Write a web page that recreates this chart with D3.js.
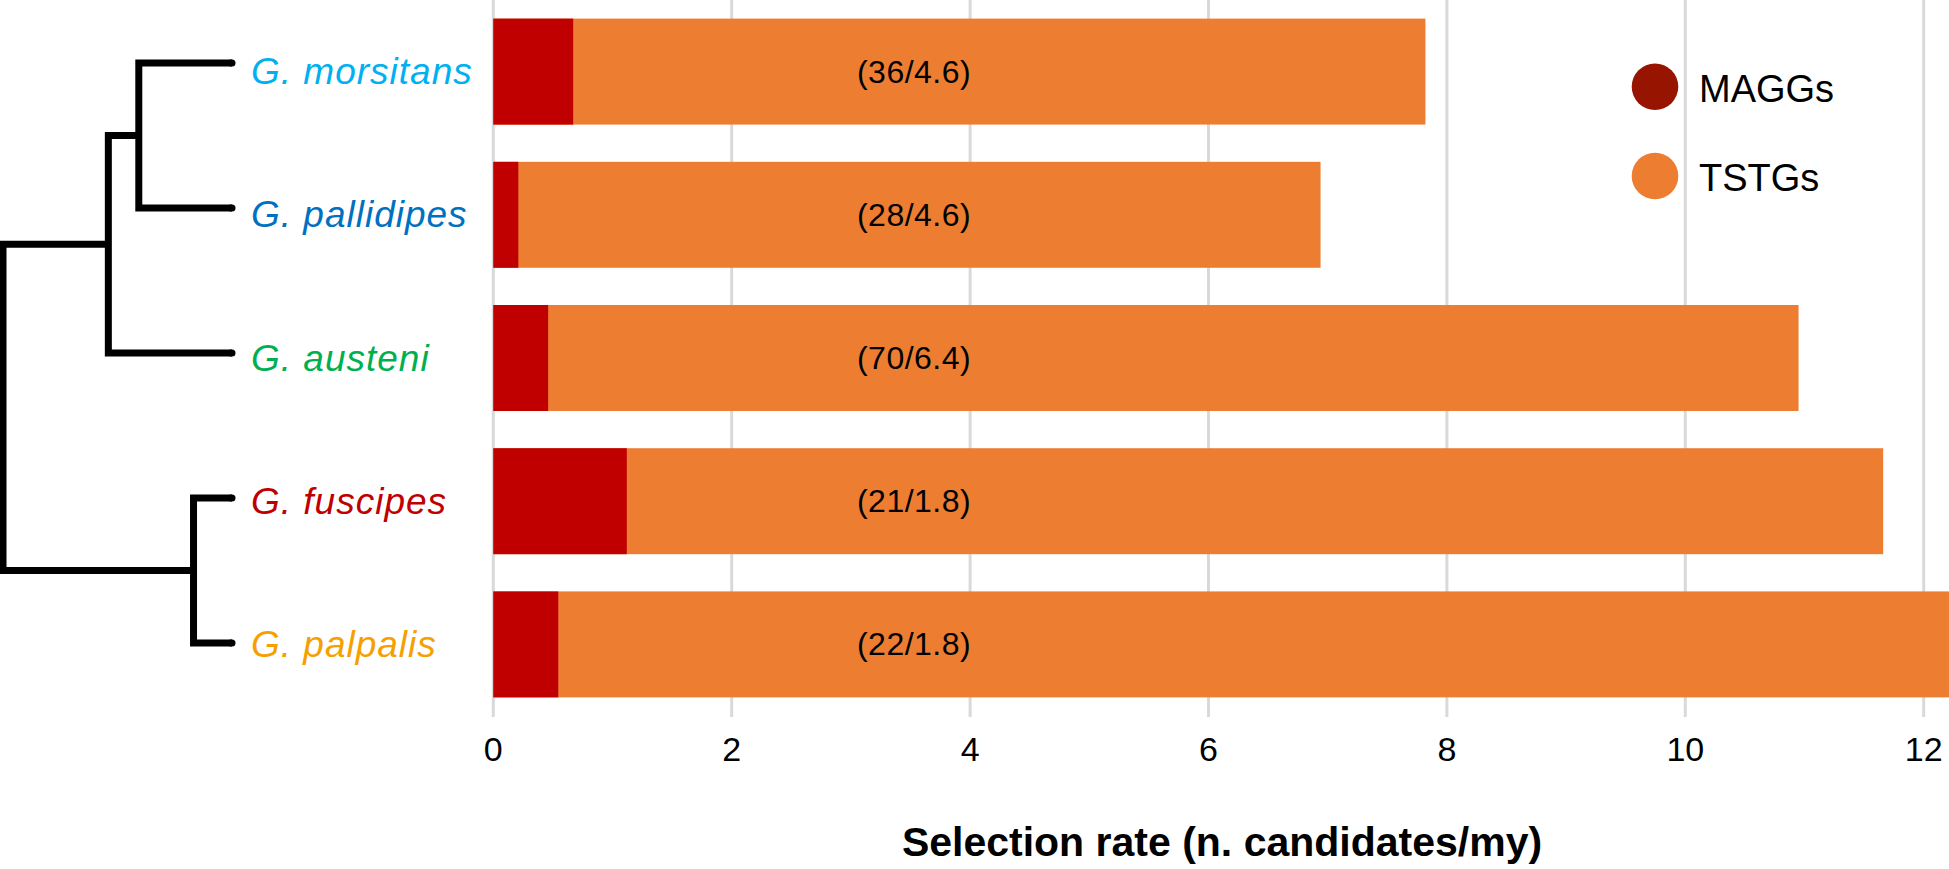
<!doctype html>
<html>
<head>
<meta charset="utf-8">
<title>Selection rate</title>
<script src="https://d3js.org/d3.v7.min.js"></script>
<style>
  body { margin: 0; background: #fff; }
  text { font-family: "Liberation Sans", Arial, sans-serif; }
</style>
</head>
<body>
<svg id="chart"></svg>
<script>
// data
var species = ["G. morsitans", "G. pallidipes", "G. austeni", "G. fuscipes", "G. palpalis"];
var speciesColors = ["#00b0f0", "#0070c0", "#00b050", "#c00000", "#f5a000"];
var maggs = [0.67, 0.21, 0.46, 1.12, 0.545];
var totals = [7.82, 6.94, 10.95, 11.66, 12.5];
var barLabels = ["(36/4.6)", "(28/4.6)", "(70/6.4)", "(21/1.8)", "(22/1.8)"];
var xTicks = [0, 2, 4, 6, 8, 10, 12];
var legendKeys = ["MAGGs", "TSTGs"];
var legendColors = ["#961400", "#ed7d31"];
// tree: internal nodes with depth (0 = root, 1 = tips)
var treeNodes = [
  {id: "mp", depth: 0.593, kids: [0, 1]},
  {id: "mpa", depth: 0.46, kids: ["mp", 2]},
  {id: "fp", depth: 0.832, kids: [3, 4]},
  {id: "root", depth: 0, kids: ["mpa", "fp"]}
];

var W = 1949, H = 869;
var svg = d3.select("#chart").attr("width", W).attr("height", H);

var x = d3.scaleLinear().domain([0, 12]).range([493.3, 1923.7]);
var y = d3.scaleBand().domain(species).range([0, 716]).paddingInner(0.26).paddingOuter(0.13);

// grid
svg.append("g").selectAll("line").data(xTicks).join("line")
  .attr("x1", d => x(d)).attr("x2", d => x(d))
  .attr("y1", 0).attr("y2", 717)
  .attr("stroke", "#d9d9d9").attr("stroke-width", 3);

// bars
var rows = svg.append("g").selectAll("g").data(species).join("g");
rows.append("rect")
  .attr("x", x(0)).attr("y", d => y(d))
  .attr("width", (d, i) => x(totals[i]) - x(0))
  .attr("height", y.bandwidth())
  .attr("fill", "#ed7d31");
rows.append("rect")
  .attr("x", x(0)).attr("y", d => y(d))
  .attr("width", (d, i) => x(maggs[i]) - x(0))
  .attr("height", y.bandwidth())
  .attr("fill", "#c00000");
rows.append("text")
  .attr("x", x(3.53)).attr("y", d => y(d) + y.bandwidth() / 2)
  .attr("text-anchor", "middle").attr("dominant-baseline", "central")
  .attr("font-size", 32).attr("letter-spacing", 0.5)
  .text((d, i) => barLabels[i]);

// species labels
svg.append("g").selectAll("text").data(species).join("text")
  .attr("x", 251).attr("y", d => y(d) + y.bandwidth() / 2)
  .attr("dominant-baseline", "central")
  .attr("font-size", 37).attr("font-style", "italic").attr("letter-spacing", 1)
  .attr("fill", (d, i) => speciesColors[i])
  .text(d => d);

// x axis labels
svg.append("g").selectAll("text").data(xTicks).join("text")
  .attr("x", d => x(d)).attr("y", 761)
  .attr("text-anchor", "middle").attr("font-size", 34)
  .text(d => d);

svg.append("text")
  .attr("x", 1222).attr("y", 856)
  .attr("text-anchor", "middle").attr("font-size", 41).attr("font-weight", "bold")
  .text("Selection rate (n. candidates/my)");

// tree
var tx = d3.scaleLinear().domain([0, 1]).range([3, 232]);
var ty = d3.scaleLinear().domain([0, species.length - 1]).range([63, 643]);
var pos = {};
species.forEach((s, i) => pos[i] = {x: tx(1), y: ty(i)});
var tree = svg.append("g").attr("fill", "none").attr("stroke", "#000")
  .attr("stroke-width", 7).attr("stroke-linecap", "round");
treeNodes.forEach(n => {
  var a = pos[n.kids[0]], b = pos[n.kids[1]];
  var nx = tx(n.depth);
  pos[n.id] = {x: nx, y: (a.y + b.y) / 2};
  tree.append("path").attr("d", `M${a.x},${a.y}H${nx}V${b.y}H${b.x}`)
    .attr("stroke-linejoin", "miter").attr("stroke-linecap", "butt");
});
// round tip ends
species.forEach((s, i) => {
  tree.append("line").attr("x1", tx(1) - 1).attr("x2", tx(1))
    .attr("y1", ty(i)).attr("y2", ty(i));
});

// legend
var leg = svg.append("g").selectAll("g").data(legendKeys).join("g")
  .attr("transform", (d, i) => `translate(1655,${86.7 + i * 89.3})`);
leg.append("circle").attr("r", 23.3).attr("fill", (d, i) => legendColors[i]);
leg.append("text").attr("x", 44).attr("y", 15).attr("font-size", 38).text(d => d);
</script>
</body>
</html>
